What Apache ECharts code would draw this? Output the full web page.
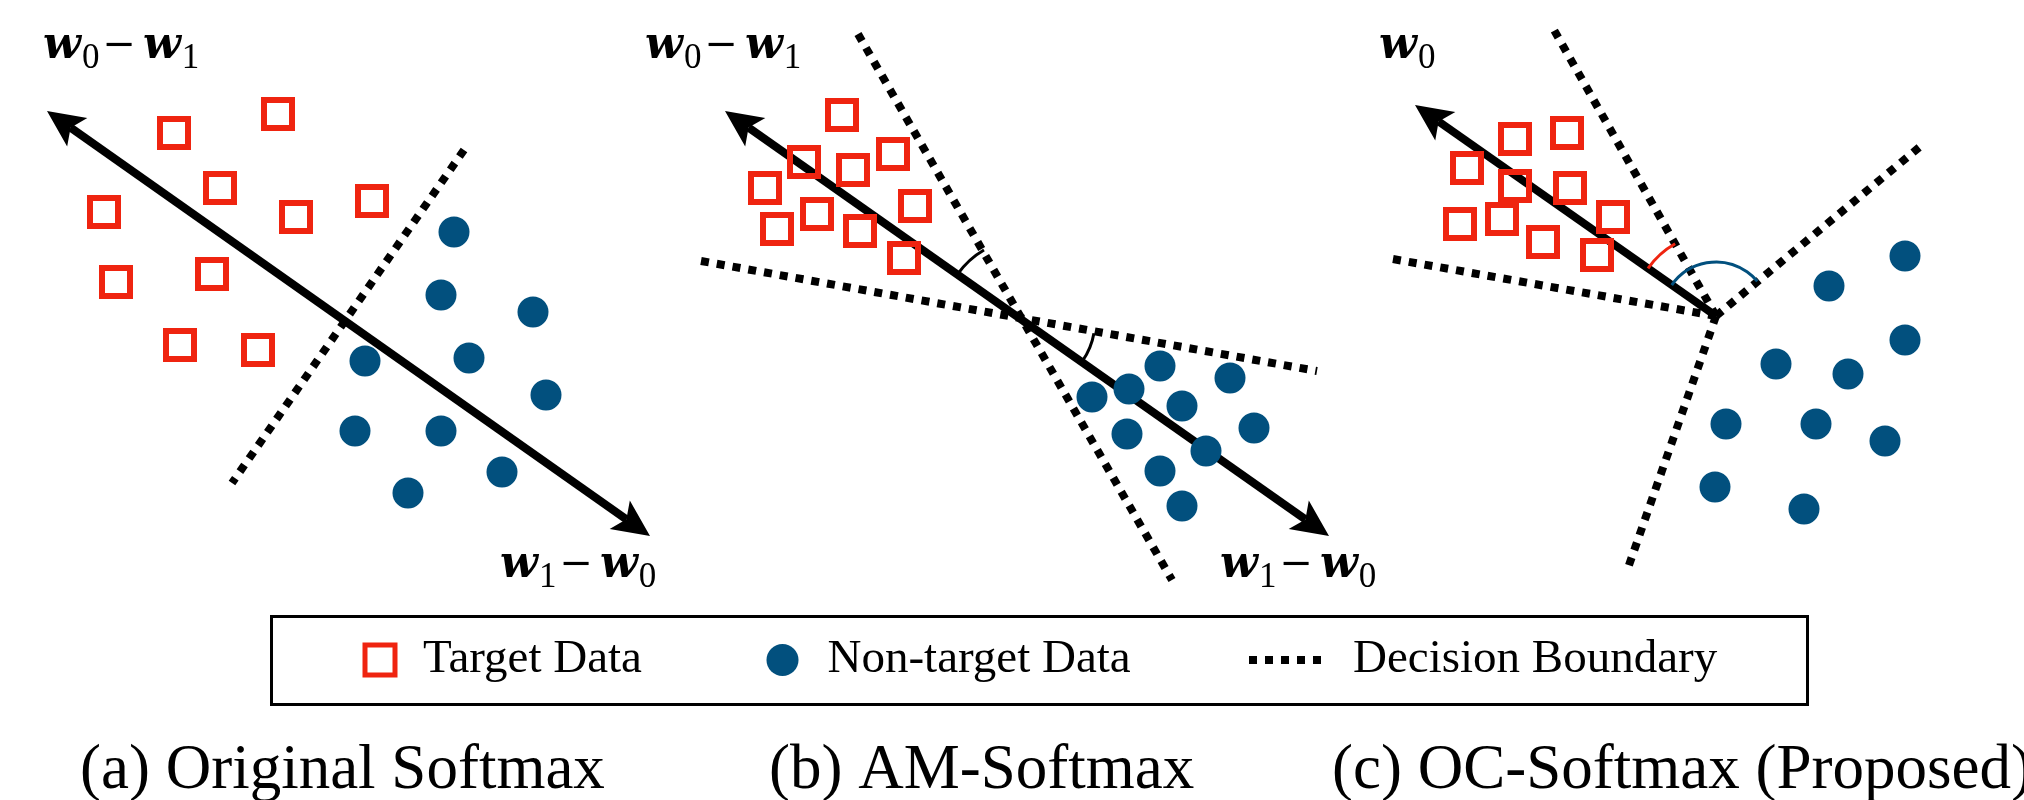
<!DOCTYPE html>
<html>
<head>
<meta charset="utf-8">
<script src="https://cdn.jsdelivr.net/npm/echarts@6/dist/echarts.min.js"></script>
<style>html,body{margin:0;padding:0;background:#fff}#c{width:2024px;height:800px}</style>
</head>
<body>
<div id="c"></div>
<script>
// ---------- data (diagram units) ----------
// (a) Original Softmax
const targetA = [[174,133],[278,114],[220,188],[104,212],[296,217],[372,201],[116,282],[212,274],[180,345],[258,350]];
const nonTargetA = [[454,232],[441,295],[533,312],[365,361],[469,358],[546,395],[355,431],[441,431],[502,472],[408,493]];
const boundaryA = [[[464,150],[232,483]]];
const arrowA = [47,111,650,536];            // x1,y1,x2,y2
// (b) AM-Softmax
const targetB = [[842,115],[804,162],[853,170],[893,154],[765,188],[817,214],[915,206],[777,229],[860,231],[904,258]];
const nonTargetB = [[1160,366],[1230,378],[1092,397],[1129,389],[1182,406],[1254,428],[1127,434],[1206,451],[1160,471],[1182,506]];
const boundaryB = [[[858,34],[1172,580]],[[701,261],[1317,371]]];
const arrowB = [725,111,1329,536];
const anglesB = [[1025,321,82,-145,-120],[1025,321,70,10,35]];
// (c) OC-Softmax (Proposed)
const targetC = [[1515,139],[1567,133],[1467,168],[1515,186],[1570,188],[1460,224],[1502,219],[1543,242],[1613,217],[1597,255]];
const nonTargetC = [[1905,256],[1829,286],[1905,340],[1776,364],[1848,374],[1726,424],[1816,424],[1885,441],[1715,487],[1804,509]];
const boundaryC = [[[1716,316],[1554,30]],[[1716,316],[1387,258]],[[1716,316],[1922,145]],[[1716,316],[1628,568]]];
const arrowC = [1716,316,1415,105];
const angleTargetC = [[1716,316,83,-145,-119.5]];
const angleNonTargetC = [[1716,316,54,-145,-40]];

const legendNames = ['Target Data', 'Non-target Data', 'Decision Boundary'];
const captions = ['(a) Original Softmax', '(b) AM-Softmax', '(c) OC-Softmax (Proposed)'];

// ---------- styles ----------
const RED = '#EF2410', BLUE = '#02507E';
const SERIF = '"Liberation Serif","Times New Roman",serif';
const HEAD_L = 37, HEAD_W = 35, NOTCH = 0.78, SHAFT = 8;

// arrows drawn through the cartesian coordinates: shaft + solid heads
function arrowSeries(arrows, heads) {   // heads: 'both' | 'end'
  return {
    type: 'custom', data: arrows, z: 2, silent: true,
    encode: {x: [0, 2], y: [1, 3]},
    renderItem: function (params, api) {
      const p1 = api.coord([api.value(0), api.value(1)]);
      const p2 = api.coord([api.value(2), api.value(3)]);
      const dx = p2[0]-p1[0], dy = p2[1]-p1[1], L = Math.hypot(dx, dy);
      const u = [dx/L, dy/L], n = [-u[1], u[0]];
      const head = (tip, d) => {   // d: direction pointing to tip
        const b = [tip[0]-d[0]*HEAD_L, tip[1]-d[1]*HEAD_L];
        const k = [tip[0]-d[0]*HEAD_L*NOTCH, tip[1]-d[1]*HEAD_L*NOTCH];
        return {type: 'polygon', shape: {points: [tip,
          [b[0]+n[0]*HEAD_W/2, b[1]+n[1]*HEAD_W/2], k,
          [b[0]-n[0]*HEAD_W/2, b[1]-n[1]*HEAD_W/2]]}, style: {fill: '#000'}};
      };
      const children = [];
      const e2 = [p2[0]-u[0]*HEAD_L*NOTCH, p2[1]-u[1]*HEAD_L*NOTCH];
      const e1 = heads === 'both' ? [p1[0]+u[0]*HEAD_L*NOTCH, p1[1]+u[1]*HEAD_L*NOTCH] : p1;
      children.push({type: 'line', shape: {x1: e1[0], y1: e1[1], x2: e2[0], y2: e2[1]},
        style: {stroke: '#000', lineWidth: SHAFT, lineCap: 'butt'}});
      children.push(head(p2, u));
      if (heads === 'both') children.push(head(p1, [-u[0], -u[1]]));
      return {type: 'group', children: children};
    }
  };
}
function boundarySeries(segs) {
  return segs.map(s => ({
    name: 'Decision Boundary', type: 'line', data: s, z: 1, symbol: 'none', showSymbol: false, silent: true,
    itemStyle: {color: '#000'},
    lineStyle: {color: '#000', width: 8, type: [8, 8], cap: 'butt'}
  }));
}
function targetSeries(d) {
  return {name: 'Target Data', type: 'scatter', data: d, symbol: 'rect', symbolSize: 28, z: 3,
    itemStyle: {color: 'rgba(255,255,255,0)', borderColor: RED, borderWidth: 6, opacity: 1}};
}
function nonTargetSeries(d) {
  return {name: 'Non-target Data', type: 'scatter', data: d, symbol: 'circle', symbolSize: 31, z: 3,
    itemStyle: {color: BLUE, opacity: 1}};
}
function arcSeries(d, color) {
  return {
    type: 'custom', data: d, z: 2, silent: true,
    encode: {x: 0, y: 1},
    renderItem: function (params, api) {
      const c = api.coord([api.value(0), api.value(1)]);
      const r = api.size([api.value(2), api.value(2)])[0];
      return {type: 'arc', shape: {cx: c[0], cy: c[1], r: r,
        startAngle: api.value(3) * Math.PI / 180, endAngle: api.value(4) * Math.PI / 180, clockwise: true},
        style: {stroke: color, lineWidth: 3, fill: null}};
    }
  };
}

const rich = {
  w: {fontFamily: '"DejaVu Serif",serif', fontWeight: 'bold', fontStyle: 'italic', fontSize: 44, verticalAlign: 'bottom', padding: [0,0,7,0], color: '#000'},
  s: {fontFamily: SERIF, fontWeight: 'normal', fontStyle: 'normal', fontSize: 35, verticalAlign: 'bottom', color: '#000', padding: [0,0,0,1]},
  m: {fontFamily: '"DejaVu Serif",serif', fontWeight: 'normal', fontStyle: 'normal', fontSize: 40, verticalAlign: 'bottom', padding: [0,7,9,3], color: '#000'}
};
function wLabel(text, left, top) {
  return {text: text, left: left, top: top, padding: 0, textStyle: {fontWeight: 'normal', rich: rich}};
}
function caption(text, left) {
  return {text: text, left: left, top: 740, padding: 0,
    textStyle: {fontFamily: SERIF, fontSize: 63, fontWeight: 'normal', color: '#000', lineHeight: 63}};
}
function legendOf(name, left, w, h, pad, extra) {
  return Object.assign({
    data: [name], left: left, top: 635, padding: 0, itemWidth: w, itemHeight: h,
    selectedMode: false, orient: 'horizontal',
    textStyle: {fontFamily: SERIF, fontSize: 47, color: '#000', lineHeight: 50, padding: [0,0,0,pad]}
  }, extra || {});
}

const chart = echarts.init(document.getElementById('c'), null, {renderer: 'canvas'});
chart.setOption({
  backgroundColor: '#fff',
  animation: false,
  grid: {left: 0, right: 0, top: 0, bottom: 0},
  xAxis: {type: 'value', min: 0, max: 2024, show: false},
  yAxis: {type: 'value', min: 0, max: 800, inverse: true, show: false},
  title: [
    wLabel('{w|w}{s|0}{m|−}{w|w}{s|1}', 43, 25),
    wLabel('{w|w}{s|0}{m|−}{w|w}{s|1}', 645, 25),
    wLabel('{w|w}{s|0}', 1379, 25),
    wLabel('{w|w}{s|1}{m|−}{w|w}{s|0}', 500, 544),
    wLabel('{w|w}{s|1}{m|−}{w|w}{s|0}', 1220, 544),
    caption(captions[0], 80),
    caption(captions[1], 769),
    caption(captions[2], 1332)
  ],
  legend: [
    legendOf(legendNames[0], 362.5, 30, 30, 23, {itemStyle: {borderWidth: 5, borderColor: RED, color: 'rgba(255,255,255,0)'}}),
    legendOf(legendNames[1], 766.5, 32, 32, 24),
    legendOf(legendNames[2], 1245, 72, 10, 27, {itemStyle: {color: '#000'}, lineStyle: {width: 8, type: [8, 8], color: '#000', cap: 'butt'}})
  ],
  graphic: [{type: 'rect', shape: {x: 271.5, y: 616.5, width: 1536, height: 88}, style: {fill: null, stroke: '#000', lineWidth: 3}, silent: true}],
  series: [].concat(
    boundarySeries(boundaryA), boundarySeries(boundaryB), boundarySeries(boundaryC),
    [arrowSeries([arrowA, arrowB], 'both'), arrowSeries([arrowC], 'end')],
    [arcSeries(anglesB, '#000'), arcSeries(angleTargetC, RED), arcSeries(angleNonTargetC, BLUE)],
    [targetSeries(targetA), targetSeries(targetB), targetSeries(targetC),
     nonTargetSeries(nonTargetA), nonTargetSeries(nonTargetB), nonTargetSeries(nonTargetC)]
  )
});
</script>
</body>
</html>
